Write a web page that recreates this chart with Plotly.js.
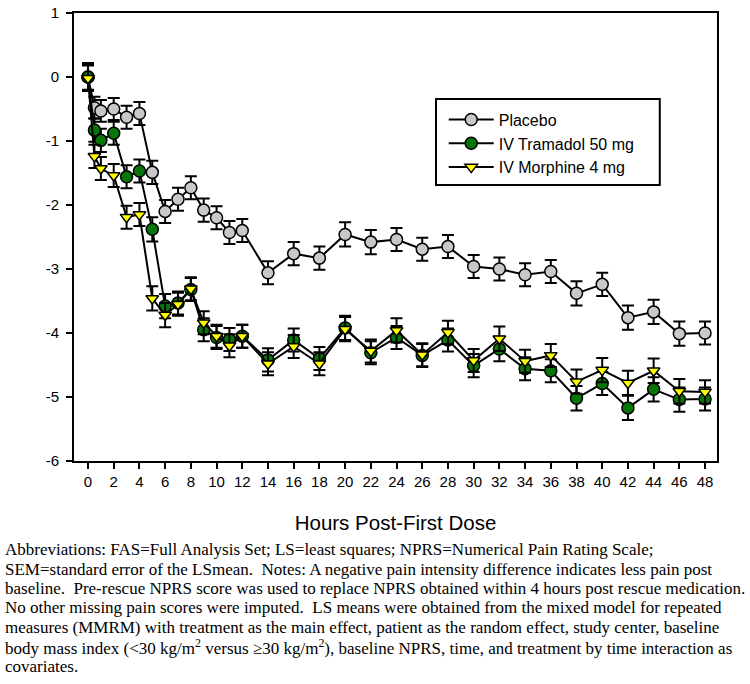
<!DOCTYPE html>
<html>
<head>
<meta charset="utf-8">
<script src="https://cdn.plot.ly/plotly-3.0.1.min.js"></script>
<style>
  body { margin: 0; background: #fff; }
  #chart { width: 750px; height: 684px; }
</style>
</head>
<body>
<div id="chart"></div>
<script>
// hours post-first dose
var hours = [0, 0.5, 1, 2, 3, 4, 5, 6, 7, 8, 9, 10, 11, 12, 14, 16, 18, 20, 22, 24,
             26, 28, 30, 32, 34, 36, 38, 40, 42, 44, 46, 48];

// LS mean change in pain intensity
var placebo  = [0, -0.48, -0.53, -0.50, -0.63, -0.57, -1.49, -2.10, -1.91, -1.73, -2.08, -2.20,
                -2.43, -2.40, -3.06, -2.76, -2.83, -2.46, -2.58, -2.54, -2.69, -2.65, -2.96,
                -3.00, -3.09, -3.04, -3.38, -3.24, -3.76, -3.67, -4.01, -4.00];
var tramadol = [0, -0.83, -0.99, -0.88, -1.56, -1.47, -2.38, -3.58, -3.53, -3.32, -3.95, -4.07,
                -4.10, -4.05, -4.42, -4.11, -4.40, -3.92, -4.31, -4.07, -4.35, -4.11, -4.51,
                -4.25, -4.56, -4.59, -5.02, -4.79, -5.17, -4.88, -5.04, -5.03];
var morphine = [-0.02, -1.24, -1.43, -1.54, -2.19, -2.15, -3.46, -3.72, -3.55, -3.31, -3.84, -4.05,
                -4.20, -4.05, -4.48, -4.21, -4.48, -3.94, -4.28, -3.96, -4.34, -3.99, -4.43,
                -4.09, -4.44, -4.35, -4.76, -4.58, -4.78, -4.59, -4.91, -4.92];

// SEM of the LS mean
var placeboSem  = [0.20, 0.17, 0.17, 0.17, 0.18, 0.18, 0.18, 0.18, 0.18, 0.18, 0.18, 0.18,
                   0.18, 0.18, 0.18, 0.18, 0.18, 0.19, 0.19, 0.18, 0.18, 0.18, 0.18,
                   0.18, 0.18, 0.18, 0.19, 0.18, 0.19, 0.19, 0.19, 0.18];
var tramadolSem = [0.22, 0.18, 0.18, 0.18, 0.18, 0.18, 0.19, 0.19, 0.18, 0.18, 0.18, 0.18,
                   0.18, 0.18, 0.18, 0.18, 0.18, 0.19, 0.18, 0.18, 0.18, 0.18, 0.18,
                   0.19, 0.18, 0.18, 0.19, 0.18, 0.19, 0.19, 0.19, 0.18];
var morphineSem = [0.20, 0.18, 0.18, 0.18, 0.18, 0.18, 0.19, 0.19, 0.18, 0.18, 0.18, 0.18,
                   0.18, 0.18, 0.18, 0.18, 0.18, 0.19, 0.18, 0.19, 0.18, 0.18, 0.18,
                   0.19, 0.18, 0.18, 0.19, 0.19, 0.19, 0.19, 0.19, 0.18];

var seriesNames = ["Placebo", "IV Tramadol 50 mg", "IV Morphine 4 mg"];
var xTicks = [0, 2, 4, 6, 8, 10, 12, 14, 16, 18, 20, 22, 24, 26, 28, 30, 32, 34, 36, 38, 40, 42, 44, 46, 48];
var yTicks = [-6, -5, -4, -3, -2, -1, 0, 1];
var yTickText = ["-6", "-5", "-4", "-3", "-2", "-1", "0", "1"];

var notes = [
  "Abbreviations: FAS=Full Analysis Set; LS=least squares; NPRS=Numerical Pain Rating Scale;",
  "SEM=standard error of the LSmean.\u00a0 Notes: A negative pain intensity difference indicates less pain post",
  "baseline.\u00a0 Pre-rescue NPRS score was used to replace NPRS obtained within 4 hours post rescue medication.",
  "No other missing pain scores were imputed.\u00a0 LS means were obtained from the mixed model for repeated",
  "measures (MMRM) with treatment as the main effect, patient as the random effect, study center, baseline",
  "body mass index (<30 kg/m<sup>2</sup> versus \u226530 kg/m<sup>2</sup>), baseline NPRS, time, and treatment by time interaction as",
  "covariates."
];

function makeTrace(name, ys, sem, symbol, fill, size) {
  return {
    x: hours, y: ys, name: name,
    type: 'scatter', mode: 'lines+markers',
    line: {color: '#000000', width: 2},
    marker: {symbol: symbol, size: size, color: fill, line: {color: '#000000', width: 1.5}},
    error_y: {type: 'data', array: sem, visible: true, color: '#000000', thickness: 2, width: 6}
  };
}

var data = [
  makeTrace(seriesNames[0], placebo, placeboSem, 'circle', '#c8c8c8', 12),
  makeTrace(seriesNames[1], tramadol, tramadolSem, 'circle', '#087508', 12),
  makeTrace(seriesNames[2], morphine, morphineSem, 'triangle-down', '#ffff00', 11)
];

// footnote lines, one annotation each
var annotations = notes.map(function (line, i) {
  return {
    xref: 'paper', yref: 'paper', x: -0.111, y: -0.198 - i * 0.0433,
    xanchor: 'left', yanchor: 'middle', showarrow: false, align: 'left',
    text: line,
    font: {family: 'Liberation Serif, Times New Roman, serif', size: 17, color: '#000'}
  };
});

var layout = {
  width: 750, height: 684,
  margin: {l: 74, r: 33, t: 13, b: 223},
  paper_bgcolor: '#ffffff', plot_bgcolor: '#ffffff',
  font: {family: 'Liberation Sans, Arial, sans-serif', size: 15, color: '#000'},
  showlegend: true,
  legend: {
    x: 0.575, y: 0.80, xanchor: 'left', yanchor: 'top',
    bgcolor: 'rgba(0,0,0,0)', borderwidth: 0, itemwidth: 45,
    font: {size: 16, color: '#000'}
  },
  xaxis: {
    range: [-1.09, 48.93], tickvals: xTicks, ticktext: xTicks.map(String),
    ticks: 'outside', ticklen: 6, tickwidth: 2, tickcolor: '#000',
    showline: true, linewidth: 2, linecolor: '#000', mirror: true,
    showgrid: false, zeroline: false,
    title: {text: 'Hours Post-First Dose', font: {size: 20.5}, standoff: 27}
  },
  yaxis: {
    range: [-6, 1], tickvals: yTicks, ticktext: yTickText,
    ticks: 'outside', ticklen: 6, tickwidth: 2, tickcolor: '#000',
    showline: true, linewidth: 2, linecolor: '#000', mirror: true,
    showgrid: false, zeroline: false, ticklabelstandoff: 4
  },
  shapes: [{
    type: 'rect', xref: 'paper', yref: 'paper',
    x0: 0.563, x1: 0.911, y0: 0.616, y1: 0.808,
    line: {color: '#000', width: 2}, fillcolor: 'rgba(0,0,0,0)'
  }],
  annotations: annotations
};

Plotly.newPlot('chart', data, layout, {displayModeBar: false, staticPlot: true});
</script>
</body>
</html>
